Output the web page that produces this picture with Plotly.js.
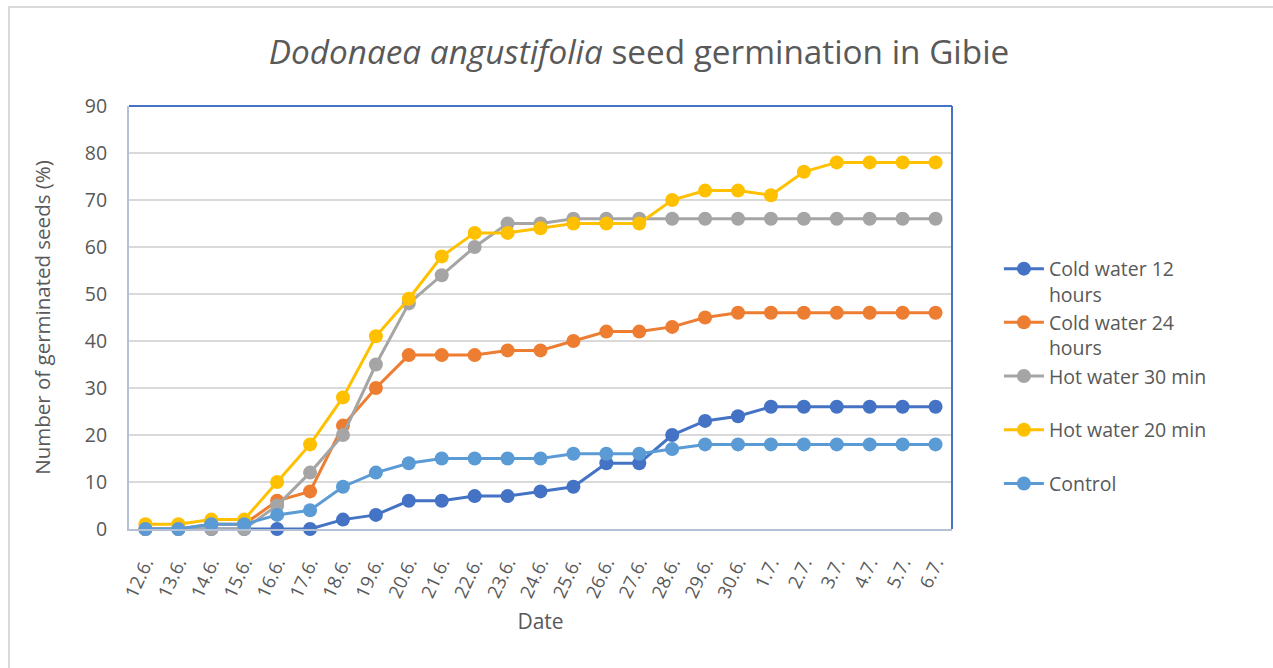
<!DOCTYPE html>
<html>
<head>
<meta charset="utf-8">
<script src="https://cdn.plot.ly/plotly-3.0.1.min.js"></script>
<style>
  html, body { margin: 0; padding: 0; background: #fff; overflow: hidden; }
  #wrap { position: relative; width: 1273px; height: 668px; }
  #chart { position: absolute; left: 0; top: 0; width: 1273px; height: 668px; }
  #frame { position: absolute; left: 8px; top: 6px; width: 1270px; height: 700px;
           border: 2px solid #D9D9D9; box-sizing: border-box; pointer-events: none; }
</style>
</head>
<body>
<div id="wrap">
  <div id="chart"></div>
  <div id="frame"></div>
</div>
<script>
const dates = ["12.6.","13.6.","14.6.","15.6.","16.6.","17.6.","18.6.","19.6.","20.6.","21.6.","22.6.","23.6.","24.6.","25.6.","26.6.","27.6.","28.6.","29.6.","30.6.","1.7.","2.7.","3.7.","4.7.","5.7.","6.7."];

const coldWater12 = [0,0,0,0,0,0,2,3,6,6,7,7,8,9,14,14,20,23,24,26,26,26,26,26,26];
const coldWater24 = [0,0,1,1,6,8,22,30,37,37,37,38,38,40,42,42,43,45,46,46,46,46,46,46,46];
const hotWater30 = [0,0,0,0,5,12,20,35,48,54,60,65,65,66,66,66,66,66,66,66,66,66,66,66,66];
const hotWater20 = [1,1,2,2,10,18,28,41,49,58,63,63,64,65,65,65,70,72,72,71,76,78,78,78,78];
const control = [0,0,1,1,3,4,9,12,14,15,15,15,15,16,16,16,17,18,18,18,18,18,18,18,18];

const seriesNames = ["Cold water 12<br>hours","Cold water 24<br>hours","Hot water 30 min<br> ","Hot water 20 min<br> ","Control<br> "];
const seriesColors = ["#4472C4","#ED7D31","#A5A5A5","#FFC000","#5B9BD5"];
const seriesValues = [coldWater12, coldWater24, hotWater30, hotWater20, control];

const FONT = "Open Sans, Noto Sans, sans-serif";
const traces = seriesValues.map((vals, i) => ({
  type: "scatter",
  mode: "lines+markers",
  x: dates,
  y: vals,
  name: seriesNames[i],
  line: { color: seriesColors[i], width: 3 },
  marker: { color: seriesColors[i], size: 14 },
  cliponaxis: false
}));

const layout = {
  width: 1273, height: 668,
  paper_bgcolor: "rgba(0,0,0,0)",
  plot_bgcolor: "#fff",
  margin: { l: 129, r: 321, t: 106, b: 139 },
  title: {
    text: "<i>Dodonaea angustifolia</i> seed germination in Gibie",
    font: { family: FONT, size: 33.3, color: "#595959" },
    x: 0.502, xanchor: "center", y: 0.922, yanchor: "middle"
  },
  xaxis: {
    type: "category",
    tickangle: -65,
    tickfont: { family: FONT, size: 18.5, color: "#595959" },
    ticklabelstandoff: 14,
    showgrid: false,
    showline: true, linecolor: "#B4C0D6", linewidth: 2,
    ticks: "",
    range: [-0.5, 24.5],
    title: { text: "Date", font: { family: FONT, size: 21, color: "#595959" }, standoff: 14 }
  },
  yaxis: {
    range: [0, 90],
    dtick: 10,
    tickfont: { family: FONT, size: 19.5, color: "#595959" },
    ticklabelstandoff: 16,
    gridcolor: "#D9D9D9", gridwidth: 1.5,
    zeroline: false,
    showline: true, linecolor: "#B4C0D6", linewidth: 2,
    ticks: "", ticklen: 0,
    title: { text: "Number of germinated seeds (%)", font: { family: FONT, size: 20.5, color: "#595959" }, standoff: 29 }
  },
  shapes: [
    { type: "line", xref: "paper", yref: "paper", x0: 0, x1: 1, y0: 1, y1: 1, line: { color: "#4472C4", width: 2 } },
    { type: "line", xref: "paper", yref: "paper", x0: 1, x1: 1, y0: 0, y1: 1, line: { color: "#4472C4", width: 2 } }
  ],
  showlegend: true,
  legend: {
    x: 1.057, xanchor: "left", y: 0.331, yanchor: "middle",
    font: { family: FONT, size: 19.5, color: "#595959" },
    valign: "top",
    itemwidth: 40,
    tracegroupgap: 0,
    bgcolor: "rgba(0,0,0,0)"
  },
  hovermode: false
};

Plotly.newPlot("chart", traces, layout, { displayModeBar: false, staticPlot: true });
</script>
</body>
</html>
